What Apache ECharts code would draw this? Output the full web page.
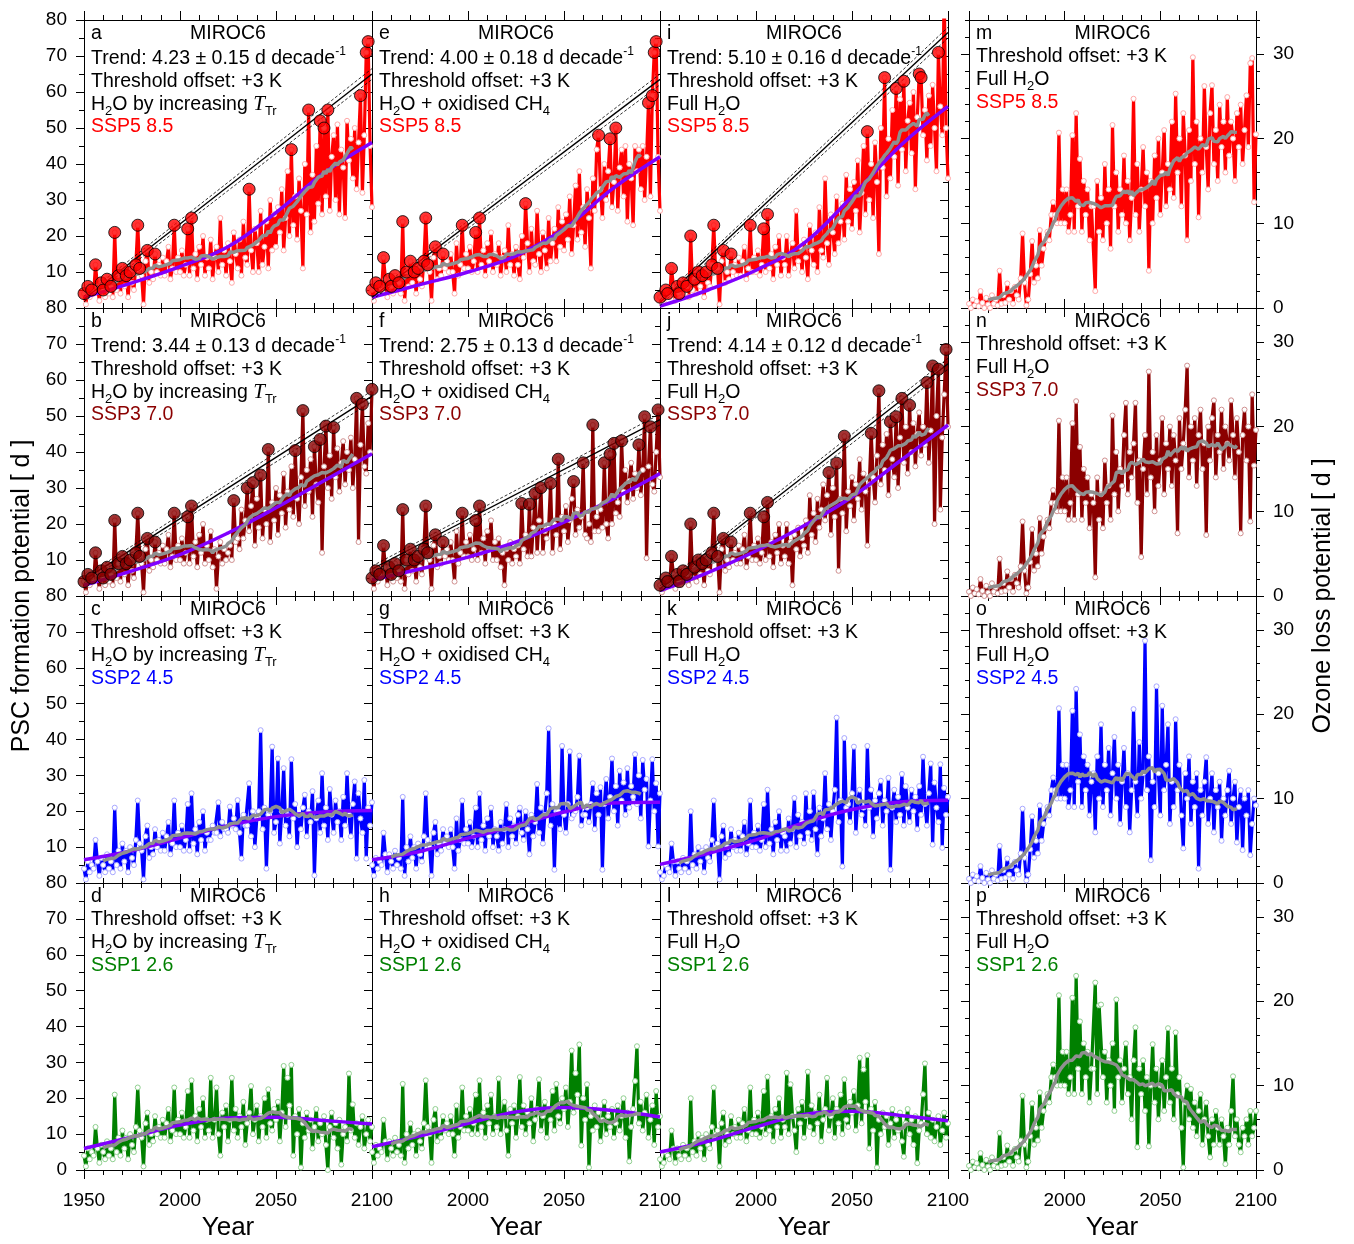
<!DOCTYPE html>
<html>
<head>
<meta charset="utf-8">
<script src="https://cdn.jsdelivr.net/npm/echarts@6/dist/echarts.min.js"></script>
<style>
html, body { margin: 0; padding: 0; background: #fff; }
#chart { width: 1354px; height: 1244px; }
</style>
</head>
<body>
<div id="chart"></div>
<script>
var FONT = '"Liberation Sans", Arial, Helvetica, sans-serif';

var years = [];
for (var y = 1950; y <= 2100; y++) years.push(y);

// historical run 1950-2014, shared by every scenario of a column
var histT = [4, 1, 6, 3, 5, 4, 12, 6, 2, 7,
  5, 3, 8, 4, 6, 3, 21, 5, 9, 4,
  11, 6, 9, 3, 10, 7, 5, 12, 23, 11,
  9, 1, 13, 16, 7, 10, 8, 15, 10, 12,
  9, 14, 9, 13, 17, 8, 11, 23, 10, 14,
  10, 16, 9, 12, 22, 9, 25, 11, 15, 8,
  17, 12, 20, 9, 14];
var histC = [5, 2, 7, 4, 6, 5, 14, 8, 3, 8,
  6, 4, 9, 5, 7, 4, 24, 2, 10, 6,
  13, 7, 10, 4, 11, 8, 6, 13, 25, 12,
  10, 2, 14, 17, 8, 11, 9, 15, 11, 13,
  10, 15, 10, 4, 18, 9, 12, 23, 11, 15,
  11, 17, 10, 13, 21, 10, 25, 12, 16, 9,
  18, 13, 21, 10, 15];
var histF = [3, 1, 2, 5, 4, 3, 11, 6, 2, 6,
  4, 3, 7, 4, 6, 3, 20, 5, 8, 4,
  10, 6, 9, 3, 10, 7, 6, 12, 23, 10,
  11, 1, 13, 16, 7, 10, 8, 15, 10, 12,
  9, 14, 9, 13, 17, 8, 11, 23, 10, 14,
  10, 16, 9, 12, 22, 10, 26, 11, 15, 8,
  17, 12, 20, 9, 14];
var histO = [0.5, 0, 1, 0.3, 0.8, 0.2, 2, 0.6, 0, 1.2,
  0.4, 0, 1.5, 0.5, 1, 0.3, 4.4, 0.5, 1.5, 0.6,
  2.9, 1, 2, 0.5, 2.5, 1.5, 1, 3.5, 8.8, 3,
  0.3, 1, 4, 7.9, 3, 5, 3.5, 9.2, 5, 7,
  8, 9, 8, 11, 12.5, 11, 10, 20.7, 10, 14,
  10, 14, 9, 11, 20.4, 9, 23, 12, 17.6, 9,
  15, 11, 14, 8, 12];

// scenario runs 2015-2100
var ssp585T = [11, 19, 8, 14, 17, 10, 25, 12, 16, 9,
  18, 13, 7, 21, 15, 11, 19, 9, 24, 14,
  12, 33, 16, 10, 22, 18, 10, 27, 12, 17,
  24, 11, 30, 16, 26, 17, 28, 21, 33, 16,
  25, 38, 20, 44, 23, 31, 19, 36, 27, 11,
  40, 26, 55, 21, 37, 24, 45, 29, 52, 26,
  50, 31, 55, 27, 42, 48, 30, 51, 26, 44,
  39, 25, 52, 41, 47, 36, 50, 33, 46, 59,
  32, 48, 71, 74, 45, 28];
var ssp585C = [12, 18, 9, 14, 16, 10, 23, 12, 15, 9,
  17, 12, 8, 20, 14, 29, 18, 10, 22, 13,
  12, 27, 15, 10, 21, 16, 11, 25, 13, 18,
  22, 13, 28, 17, 24, 16, 26, 19, 31, 15,
  23, 34, 19, 38, 21, 28, 17, 33, 25, 11,
  36, 27, 44, 48, 33, 25, 40, 30, 38, 47,
  28, 35, 50, 27, 39, 44, 31, 45, 24, 40,
  36, 23, 45, 38, 44, 33, 45, 30, 42, 57,
  31, 59, 71, 74, 42, 27];
var ssp585F = [12, 20, 9, 15, 18, 11, 27, 13, 17, 10,
  19, 14, 8, 23, 16, 12, 21, 10, 28, 16,
  14, 36, 18, 12, 26, 21, 15, 31, 18, 24,
  29, 19, 37, 24, 33, 22, 35, 27, 41, 21,
  32, 45, 26, 49, 30, 40, 25, 46, 35, 15,
  50, 39, 64, 31, 47, 36, 55, 42, 61, 34,
  58, 44, 63, 38, 52, 57, 43, 60, 33, 53,
  65, 64, 48, 55, 41, 59, 45, 62, 50, 38,
  71, 56, 48, 88, 50, 36];
var ssp585O = [12, 2, 15, 9, 13, 8, 17, 10, 14, 7,
  21.6, 12, 16, 9, 14, 11, 18, 10, 15, 8,
  13, 24.7, 11, 17, 9, 14, 19, 12, 16, 4.4,
  15, 10, 18, 13, 20, 11, 16, 21, 12, 17,
  14, 22, 13, 25.3, 16, 20, 12, 23, 18, 8,
  21, 15, 29.6, 17, 22, 10.7, 20, 16, 26.2, 19,
  14, 23, 26.3, 17, 21, 15, 24, 19, 22, 16,
  24.9, 18, 22, 20, 15, 23, 19, 24, 17, 21,
  25.1, 19, 28.9, 29.5, 12.5, 20.5];

var ssp370T = [10, 18, 8, 13, 2, 11, 15, 9, 13, 10,
  12, 14, 10, 26.5, 15, 16, 13, 24, 16, 21,
  30, 18, 25, 31.5, 14, 27, 19, 33.6, 16, 24,
  20, 40.7, 15, 26, 21, 30, 17, 28, 23, 34,
  19, 29, 24, 36, 22, 40.4, 27, 20, 33, 51.5,
  25, 35, 29, 38, 22, 41.5, 31, 26, 43.5, 12,
  36, 47.2, 30, 39, 27, 46.8, 33, 41, 29, 37,
  43, 31, 40, 35, 44, 30, 38, 54.9, 15, 42,
  53.3, 36, 34, 48, 40, 57.4];
var ssp370C = [10, 16, 8, 12, 3, 13, 10, 15, 9, 13,
  11, 14, 9, 25.7, 13, 17, 11, 25.5, 11, 19,
  28.5, 12, 21, 30.1, 12, 18, 16, 19, 31.3, 12,
  20, 17, 38, 13, 22, 18, 25, 15, 21, 27,
  31.8, 17, 24, 19, 22, 37, 17, 16, 20, 15,
  47.5, 18, 22, 18, 24, 19, 37, 20, 16, 39.4,
  20, 42.4, 23, 26, 22, 43.1, 29, 35, 26, 32,
  37, 27, 34, 30, 42, 28, 35, 49.8, 10.5, 36,
  47, 31, 29, 40, 51.7, 33];
var ssp370F = [11, 20, 9, 15, 3, 17, 13, 19, 11, 16,
  14, 21, 12, 28, 17, 23, 15, 27, 19, 24,
  31, 21, 28, 34.3, 17, 30, 22, 36.9, 7, 27,
  23, 44.4, 18, 29, 25, 33, 21, 31, 27, 38,
  24, 34, 29, 14, 31, 45.2, 33, 26, 39, 57,
  31, 42, 35, 45, 28, 48.4, 38, 33, 49.8, 30,
  44, 54.9, 37, 47, 34, 53, 40, 48, 36, 45,
  51, 39, 47, 42, 59.3, 37, 46, 63.9, 20, 50,
  63, 24, 44, 56, 68.5, 47];
var ssp370O = [11, 2.2, 14, 9, 12, 8, 16, 11, 13, 9,
  21.3, 12, 17, 10, 15, 13, 19, 22.8, 12, 17,
  14, 18, 22.8, 11, 16, 4.6, 15, 19, 12, 26.5,
  14, 17, 10, 19, 13, 16, 21, 12, 18, 15,
  20, 13, 19, 16, 7.4, 21, 15, 18, 22, 27.2,
  14, 20, 16, 21, 13, 19, 22, 15, 18, 7.2,
  20, 16, 21, 23.1, 14, 19, 17, 22, 15, 20,
  18, 16, 23.1, 19, 14, 21, 17, 7.4, 19, 22,
  16, 20, 8.8, 23.8, 15.4, 19.6];

var ssp245T = [12, 12, 16, 14, 14, 22.5, 13, 17, 15, 15,
  14, 21.3, 16, 18, 15, 23.1, 14, 6.8, 19, 16,
  16, 27.8, 13, 20, 10, 18, 20, 42.6, 15, 21,
  4, 19, 20, 38, 14, 17, 34.7, 11, 20, 32,
  16, 19, 13, 34.5, 18, 22, 10, 19, 15, 21,
  24.6, 13, 20, 17, 25.6, 2.1, 18, 23, 14, 30.6,
  16, 21, 12, 26.2, 19, 14, 23, 17, 20, 12,
  24, 16, 30.6, 19, 13, 22, 28.3, 6.8, 25, 18,
  14, 28.7, 6.8, 21, 16, 22.5];
var ssp245C = [13, 9, 17, 11, 15, 22, 10, 18, 13, 16,
  11, 19, 21, 14, 12, 20, 15, 8, 19, 13,
  17, 27.6, 14, 21, 11, 19, 25, 43.1, 16, 22,
  3.7, 20, 20, 15, 38.2, 19, 14, 22, 36.7, 18,
  19, 20, 24, 35.5, 16, 19, 19, 21, 17, 22,
  27.8, 15, 25, 19, 26.7, 3.7, 22, 29, 18, 24,
  34.7, 20, 27, 16, 31.3, 23, 28, 19, 32, 21,
  27, 24, 35.9, 22, 30, 18, 34.3, 26, 29, 10.2,
  23, 34.5, 20, 27.8, 10.2, 25];
var ssp245F = [13, 9, 18, 11, 15, 23.7, 10, 19, 13, 17,
  11, 25, 14, 20, 12, 25.3, 15, 8, 21, 13,
  18, 30.6, 15, 22, 12, 20, 26, 46.1, 17, 23,
  4.6, 40.4, 21, 22, 17, 25, 38, 14, 23, 26,
  19, 21, 16, 38.2, 21, 26, 13, 23, 18, 25,
  28.5, 16, 23, 20, 29.3, 3.7, 21, 26, 17, 24,
  19, 30.4, 16, 27, 21, 17, 26, 20, 24, 15,
  27, 19, 35.2, 22, 16, 25, 33.3, 10.7, 28, 21,
  17, 33.1, 9.8, 26.5, 19, 24];
var ssp245O = [13, 6, 15, 10, 18.8, 9, 14, 11, 16, 8,
  13, 17.3, 10, 14, 7, 12, 16, 9, 13, 6,
  11, 20.6, 12, 8, 16.7, 10, 13, 28.7, 11, 15,
  2.7, 12, 9, 23.3, 13, 8, 21, 11, 14, 18.8,
  7, 12, 9, 19.4, 11, 14, 8, 4.1, 13, 10,
  15, 7, 12, 9, 13, 1.7, 11, 8, 12, 14.9,
  7, 10, 13, 6, 11, 9, 12, 5, 10, 8,
  11, 13.3, 7, 10, 12, 4.8, 9, 11, 3.9, 10,
  8, 11, 3.3, 7, 10, 9.2];

var ssp126T = [11, 25.7, 9, 14, 23, 10, 4, 16, 12, 18,
  8, 14, 25.7, 11, 17, 9, 15, 12, 19, 7,
  13, 16, 23.4, 10, 14, 18, 8, 15, 12, 20,
  9, 22.5, 13, 11, 17, 14, 19, 8, 16, 29,
  12, 25.7, 18, 29.3, 4, 15, 10, 17, 0.7, 13,
  9, 16, 11, 14, 6, 12, 17, 8, 13, 10,
  15, 7, 0, 12, 16, 9, 13, 6, 14, 1.5,
  10, 12, 8, 26.9, 11, 18.3, 9, 13, 7, 12,
  15, 6, 10, 14, 8, 12];
var ssp126C = [12, 25.5, 10, 15, 19, 11, 4, 17, 13, 18,
  9, 15, 25.9, 12, 18, 10, 16, 13, 20, 8,
  14, 17, 25.3, 11, 15, 19, 9, 17, 14, 22,
  11, 24, 15, 13, 20, 17, 23, 12, 19, 33.3,
  16, 27, 21, 35, 6.8, 20, 14, 23.9, 0.7, 15,
  11, 18, 12, 16, 8, 14, 19, 10, 15, 12,
  17, 9, 13, 18, 11, 15, 20, 9, 16, 2.4,
  12, 17, 24.8, 34.5, 13, 19, 11, 16, 21, 9,
  14, 18, 7, 22, 12, 15];
var ssp126F = [12, 27.1, 10, 23.9, 15, 11, 5, 17, 13, 19,
  9, 15, 27.4, 12, 18, 10, 16, 13, 21, 8,
  14, 17, 25.7, 11, 15, 20, 9, 17, 13, 21,
  10, 25.3, 14, 12, 19, 16, 22, 11, 18, 31.3,
  13, 28, 19, 32, 6, 17, 11, 19, 0.7, 14,
  10, 16, 12, 15, 7, 13, 17, 9, 14, 11,
  16, 8, 3.7, 13, 17, 10, 14, 7, 15, 1.9,
  11, 13, 21.1, 29.7, 10, 16, 9, 14, 8, 12,
  15, 7, 11, 16, 9, 13];
var ssp126O = [12, 22.2, 9, 19.5, 19.6, 11, 14, 8, 13, 10,
  15, 7, 20.2, 11, 13, 8, 12, 15, 9, 11,
  6, 13, 16.9, 2.7, 12, 9, 13, 7, 11, 2.8,
  10, 14.9, 8, 12, 6, 10, 13, 7, 11, 16.8,
  8, 12, 6, 16.3, 9, 11, 5, 0.3, 8, 10,
  6, 9.6, 5, 8, 4, 7, 9, 3, 6, 8,
  4, 1.5, 6, 3, 7, 5, 3, 6, 4, 0.7,
  5, 3, 7, 11.1, 4, 6, 3, 2.1, 5, 4,
  6, 3, 7, 4, 5, 7];

// smooth fitted curve (purple), read at these years
var fitYears = [1950, 1975, 2000, 2025, 2050, 2075, 2100];
var fitA = [3, 7, 11.5, 17, 26.5, 37.5, 46];
var fitE = [3, 6.5, 10, 14.5, 22, 33, 42];
var fitI = [0.5, 5, 10.5, 18, 31, 45, 56];
var fitB = [3, 7, 11.5, 17.5, 24.5, 32, 39.5];
var fitF = [4.5, 7.5, 10.8, 15, 20.5, 26.8, 34];
var fitJ = [1.5, 6.5, 12.5, 19.5, 27.5, 37.5, 47.5];
var fitC = [6.5, 9, 12.5, 16, 18.5, 19.8, 20.2];
var fitG = [6.5, 8.8, 12.5, 16, 19.8, 22.3, 22.5];
var fitK = [5.2, 8.3, 12, 16.8, 20.5, 22.6, 23.1];
var fitD = [6, 9.2, 12.5, 14.5, 14.7, 13.8, 12.8];
var fitH = [6.5, 9.5, 13, 16.2, 17.4, 16.6, 14.8];
var fitL = [5, 8, 12, 15.5, 16.4, 15.2, 13.7];

// trend line of the marked maxima, value at 1950 and 2100
var trendYears = [1950, 2100];
var trendA = [2.5, 65];
var trendE = [3, 63.5];
var trendI = [1.5, 76.5];
var trendB = [4.5, 55.5];
var trendF = [7.5, 49];
var trendJ = [2, 64.5];
var bandOff = [0.8, 1.5];
var trendLabels = [['4.23 ± 0.15', '4.00 ± 0.18', '5.10 ± 0.16'], ['3.44 ± 0.13', '2.75 ± 0.13', '4.14 ± 0.12']];

// years marked with large dots
var recHistT = [1950, 1952, 1954, 1956, 1959, 1960, 1962, 1964, 1966, 1968, 1970, 1972, 1974, 1977, 1978, 1979, 1983, 1987, 1997, 2004, 2006];
var recHistC = [1950, 1952, 1954, 1956, 1959, 1960, 1962, 1964, 1966, 1968, 1970, 1972, 1974, 1977, 1978, 1979, 1983, 1987, 1997, 2004, 2006];
var recHistF = [1950, 1953, 1954, 1956, 1959, 1960, 1962, 1964, 1966, 1968, 1970, 1972, 1974, 1977, 1978, 1980, 1983, 1987, 1997, 2004, 2006];
var recA = [2036, 2058, 2067, 2073, 2075, 2077, 2094, 2097, 2098];
var recE = [2030, 2068, 2074, 2077, 2094, 2096, 2097, 2098];
var recI = [2058, 2067, 2073, 2077, 2085, 2086, 2095, 2098];
var recB = [2028, 2035, 2038, 2042, 2046, 2060, 2064, 2070, 2073, 2076, 2080, 2092, 2095, 2100];
var recF = [2028, 2032, 2035, 2038, 2043, 2047, 2055, 2060, 2065, 2071, 2074, 2076, 2080, 2089, 2092, 2095, 2099];
var recJ = [2038, 2042, 2046, 2060, 2064, 2070, 2073, 2076, 2080, 2089, 2092, 2095, 2099];

var scenarios = ['SSP5 8.5', 'SSP3 7.0', 'SSP2 4.5', 'SSP1 2.6'];
var scenColors = ['#ff0000', '#8b0000', '#0000ff', '#008000'];
var ringColors = ['#ffa8a8', '#d09090', '#a8a8ff', '#90d090'];
var letters = [['a', 'e', 'i', 'm'], ['b', 'f', 'j', 'n'], ['c', 'g', 'k', 'o'], ['d', 'h', 'l', 'p']];
var waterLabels = ['H{sub|2}O by increasing {it|T}{sub|Tr}', 'H{sub|2}O + oxidised CH{sub|4}', 'Full H{sub|2}O', 'Full H{sub|2}O'];

var hist = [histT, histC, histF, histO];
var future = [[ssp585T, ssp585C, ssp585F, ssp585O], [ssp370T, ssp370C, ssp370F, ssp370O],
  [ssp245T, ssp245C, ssp245F, ssp245O], [ssp126T, ssp126C, ssp126F, ssp126O]];
var fits = [[fitA, fitE, fitI], [fitB, fitF, fitJ], [fitC, fitG, fitK], [fitD, fitH, fitL]];
var trends = [[trendA, trendE, trendI], [trendB, trendF, trendJ]];
var recHist = [recHistT, recHistC, recHistF];
var recFut = [[recA, recE, recI], [recB, recF, recJ]];

var colLeft = [84, 372, 660, 969], colW = [288, 288, 288, 287];
var rowTop = [20, 308, 596, 883], rowH = [288, 288, 287, 287];

function runMean(v, half) {
  var out = [];
  for (var i = half; i < v.length - half; i++) {
    var s = 0;
    for (var k = -half; k <= half; k++) s += v[i + k];
    out.push([years[i], s / (2 * half + 1)]);
  }
  return out;
}

// one line of panel text, as a title component; yc is the line centre
function textLine(x, yc, text, color) {
  return {
    left: x, top: yc - 13, padding: 0, itemGap: 0, z: 10,
    text: text,
    textStyle: {
      fontSize: 19.5, fontWeight: 'normal', fontFamily: FONT, color: color, lineHeight: 26,
      rich: {
        sup: { fontSize: 12, lineHeight: 12, verticalAlign: 'top', color: color, fontFamily: FONT },
        sub: { fontSize: 13, lineHeight: 13, verticalAlign: 'bottom', color: color, fontFamily: FONT },
        it: { fontSize: 21, lineHeight: 26, fontStyle: 'italic', fontFamily: '"Liberation Serif", "DejaVu Serif", serif', color: color }
      }
    }
  };
}

var tickStyle = { color: '#000', width: 1 };
var option = {
  animation: false,
  backgroundColor: '#fff',
  textStyle: { fontFamily: FONT },
  title: [], grid: [], xAxis: [], yAxis: [], series: [], graphic: []
};

for (var r = 0; r < 4; r++) {
  for (var c = 0; c < 4; c++) {
    var gi = option.grid.length;
    option.grid.push({ left: colLeft[c], top: rowTop[r], width: colW[c], height: rowH[r], show: false });
    var isOzone = c === 3;
    var ymax = isOzone ? 34 : 80;

    var xb = option.xAxis.length;
    [['bottom', r === 3], ['top', false]].forEach(function (p) {
      option.xAxis.push({
        type: 'value', gridIndex: gi, min: 1950, max: 2100, interval: 50, position: p[0],
        axisLine: { show: true, onZero: false, lineStyle: tickStyle },
        axisTick: { show: true, length: 9, lineStyle: tickStyle },
        minorTick: { show: true, splitNumber: 5, length: 5, lineStyle: tickStyle },
        splitLine: { show: false },
        axisLabel: {
          show: p[1], margin: 21, fontSize: 19, color: '#000', fontFamily: FONT,
          formatter: (function (cc) { return function (v) { return (cc > 0 && v === 1950) ? '' : String(v); }; })(c)
        }
      });
    });

    var yl = option.yAxis.length;
    if (!isOzone) {
      option.yAxis.push({
        type: 'value', gridIndex: gi, min: 0, max: 80, interval: 10, position: 'left',
        axisLine: { show: true, onZero: false, lineStyle: tickStyle },
        axisTick: { show: true, length: 8, lineStyle: tickStyle },
        minorTick: { show: true, splitNumber: 2, length: 5, lineStyle: tickStyle },
        splitLine: { show: false },
        axisLabel: {
          show: c === 0, margin: 17, fontSize: 19, color: '#000', fontFamily: FONT,
          formatter: (function (rr) { return function (v) { return (v === 0 && rr < 3) ? '' : String(v); }; })(r)
        }
      });
      option.yAxis.push({
        type: 'value', gridIndex: gi, min: 0, max: 80, interval: 10, position: 'right',
        axisLine: { show: true, onZero: false, lineStyle: tickStyle },
        axisTick: { show: true, inside: true, length: 8, lineStyle: tickStyle },
        minorTick: { show: true, splitNumber: 2, length: 5, lineStyle: tickStyle },
        splitLine: { show: false }, axisLabel: { show: false }
      });
    } else {
      ['left', 'right'].forEach(function (pos) {
        option.yAxis.push({
          type: 'value', gridIndex: gi, min: 0, max: ymax, interval: 10, position: pos,
          axisLine: { show: true, onZero: false, lineStyle: tickStyle },
          axisTick: { show: true, length: 8, lineStyle: tickStyle, customValues: [0, 10, 20, 30] },
          minorTick: { show: false },
          splitLine: { show: false },
          axisLabel: {
            show: pos === 'right', margin: 17, fontSize: 19, color: '#000', fontFamily: FONT,
            customValues: [0, 10, 20, 30],
            formatter: function (v) { return v % 10 === 0 ? String(v) : ''; }
          }
        });
        option.yAxis.push({
          type: 'value', gridIndex: gi, min: 0, max: ymax, interval: 2, position: pos,
          axisLine: { show: false, onZero: false },
          axisTick: { show: true, length: 4, lineStyle: tickStyle },
          splitLine: { show: false }, axisLabel: { show: false }
        });
      });
    }

    var vals = hist[c].concat(future[r][c]);
    var color = scenColors[r];

    option.series.push({
      type: 'line', xAxisIndex: xb, yAxisIndex: yl, z: 2, silent: true,
      data: years.map(function (yy, i) { return [yy, vals[i]]; }),
      symbol: 'circle', symbolSize: 5, showSymbol: true, showAllSymbol: true,
      lineStyle: { color: color, width: 3.2 },
      itemStyle: { color: '#fff', borderColor: ringColors[r], borderWidth: 1 }
    });

    if (!isOzone) {
      option.series.push({
        type: 'line', xAxisIndex: xb, yAxisIndex: yl, z: 3, silent: true,
        data: fitYears.map(function (yy, i) { return [yy, fits[r][c][i]]; }),
        smooth: 0.4, symbol: 'none', lineStyle: { color: '#8000ff', width: 3.5 }
      });
    }

    option.series.push({
      type: 'line', xAxisIndex: xb, yAxisIndex: yl, z: 4, silent: true,
      data: runMean(vals, 10), symbol: 'none',
      lineStyle: { color: '#8f8f8f', width: 3.5 }
    });

    var lines;
    if (r < 2 && !isOzone) {
      var t = trends[r][c];
      option.series.push({
        type: 'line', xAxisIndex: xb, yAxisIndex: yl, z: 5, silent: true, symbol: 'none',
        data: [[trendYears[0], t[0]], [trendYears[1], t[1]]],
        lineStyle: { color: '#000', width: 1.4 }
      });
      [1, -1].forEach(function (sgn) {
        option.series.push({
          type: 'line', xAxisIndex: xb, yAxisIndex: yl, z: 5, silent: true, symbol: 'none',
          data: [[trendYears[0], t[0] + sgn * bandOff[0]], [trendYears[1], t[1] + sgn * bandOff[1]]],
          lineStyle: { color: '#000', width: 0.8, type: [3, 2] }
        });
      });
      var recYears = recHist[c].concat(recFut[r][c]);
      option.series.push({
        type: 'scatter', xAxisIndex: xb, yAxisIndex: yl, z: 6, silent: true, clip: true,
        data: recYears.map(function (yy) { return [yy, vals[yy - 1950]]; }),
        symbol: 'circle', symbolSize: 12,
        itemStyle: { color: color, borderColor: '#000', borderWidth: 1 }
      });
      lines = ['Trend: ' + trendLabels[r][c] + ' d decade{sup|-1}', 'Threshold offset: +3 K', waterLabels[c], scenarios[r]];
    } else {
      lines = ['Threshold offset: +3 K', waterLabels[c], scenarios[r]];
    }

    // panel annotations
    var x0 = colLeft[c] + 7, ptop = rowTop[r];
    var ys = lines.length === 4 ? [14, 38.5, 61.5, 84.5, 106.5] : [13.5, 36.5, 59.5, 82.5];
    option.title.push(textLine(x0, ptop + ys[0], letters[r][c], '#000'));
    option.title.push(textLine(colLeft[c] + colW[c] / 2 - 38, ptop + ys[0], 'MIROC6', '#000'));
    lines.forEach(function (txt, i) {
      var isScen = i === lines.length - 1;
      option.title.push(textLine(x0, ptop + ys[i + 1], txt, isScen ? color : '#000'));
    });
  }
}

// axis titles
option.graphic.push({
  type: 'text', x: 22, y: 596, rotation: Math.PI / 2, silent: true,
  style: { text: 'PSC formation potential [ d ]', fontSize: 25, fontFamily: FONT, fill: '#000',
    textAlign: 'center', align: 'center', textVerticalAlign: 'middle', verticalAlign: 'middle' }
});
option.graphic.push({
  type: 'text', x: 1323, y: 596, rotation: Math.PI / 2, silent: true,
  style: { text: 'Ozone loss potential [ d ]', fontSize: 25, fontFamily: FONT, fill: '#000',
    textAlign: 'center', align: 'center', textVerticalAlign: 'middle', verticalAlign: 'middle' }
});
[228, 516, 804, 1112].forEach(function (cx) {
  option.graphic.push({
    type: 'text', x: cx, y: 1228, silent: true,
    style: { text: 'Year', fontSize: 26, fontFamily: FONT, fill: '#000',
      textAlign: 'center', align: 'center', textVerticalAlign: 'middle', verticalAlign: 'middle' }
  });
});

var chart = echarts.init(document.getElementById('chart'));
chart.setOption(option);
</script>
</body>
</html>
